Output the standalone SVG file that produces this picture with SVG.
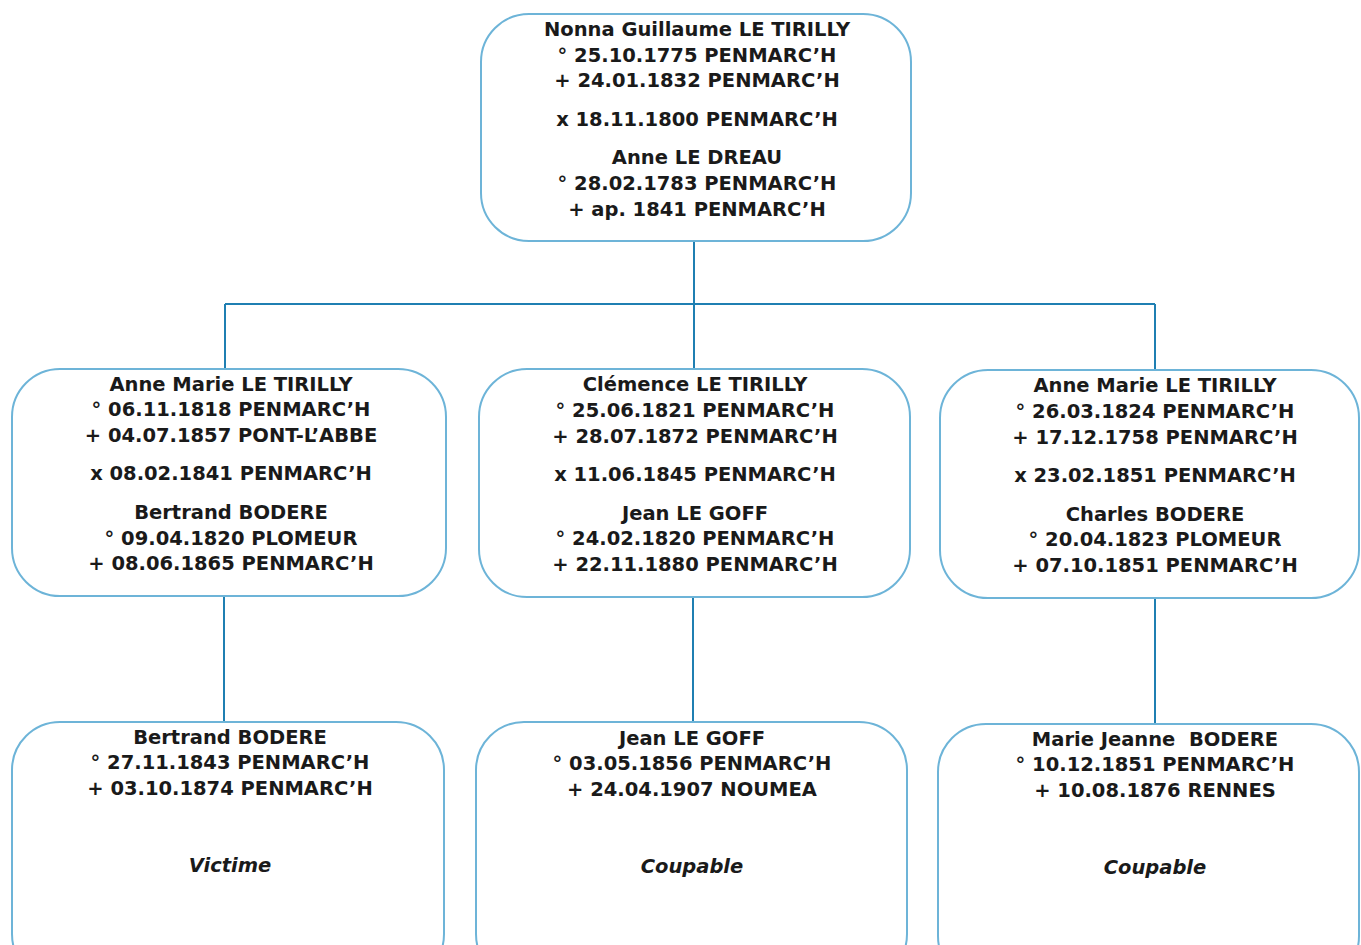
<svg xmlns="http://www.w3.org/2000/svg" width="1361" height="945" viewBox="0 0 1361 945">
<style>
.box{fill:#fff;stroke:#6db4d8;stroke-width:2}
.t{font-family:"DejaVu Sans",Verdana,sans-serif;font-weight:bold;font-size:19.5px;fill:#1a1a1a;text-anchor:middle}
.i{font-style:italic}
.c{stroke:#1f7fb2;stroke-width:2;fill:none}
</style>
<rect width="1361" height="945" fill="#fff"/>
<g id="connectors">
<path class="c" d="M694 241V304M225 304H1155M225 304V369M694 304V369M1155 304V370"/>
<path class="c" d="M224 596V722M693 597V722M1155 598V724"/>
</g>
<g id="n-top">
<rect class="box" x="481" y="14" width="430" height="227" rx="48"/>
<text class="t" x="697" y="36">Nonna Guillaume LE TIRILLY</text>
<text class="t" x="697" y="62">° 25.10.1775 PENMARC’H</text>
<text class="t" x="697" y="87">+ 24.01.1832 PENMARC’H</text>
<text class="t" x="697" y="126">x 18.11.1800 PENMARC’H</text>
<text class="t" x="697" y="164">Anne LE DREAU</text>
<text class="t" x="697" y="190">° 28.02.1783 PENMARC’H</text>
<text class="t" x="697" y="216">+ ap. 1841 PENMARC’H</text>
</g>
<g id="n-left">
<rect class="box" x="12" y="369" width="434" height="227" rx="48"/>
<text class="t" x="231" y="391">Anne Marie LE TIRILLY</text>
<text class="t" x="231" y="416">° 06.11.1818 PENMARC’H</text>
<text class="t" x="231" y="442">+ 04.07.1857 PONT-L’ABBE</text>
<text class="t" x="231" y="480">x 08.02.1841 PENMARC’H</text>
<text class="t" x="231" y="519">Bertrand BODERE</text>
<text class="t" x="231" y="545">° 09.04.1820 PLOMEUR</text>
<text class="t" x="231" y="570">+ 08.06.1865 PENMARC’H</text>
</g>
<g id="n-mid">
<rect class="box" x="479" y="369" width="431" height="228" rx="48"/>
<text class="t" x="695" y="391">Clémence LE TIRILLY</text>
<text class="t" x="695" y="417">° 25.06.1821 PENMARC’H</text>
<text class="t" x="695" y="443">+ 28.07.1872 PENMARC’H</text>
<text class="t" x="695" y="481">x 11.06.1845 PENMARC’H</text>
<text class="t" x="695" y="520">Jean LE GOFF</text>
<text class="t" x="695" y="545">° 24.02.1820 PENMARC’H</text>
<text class="t" x="695" y="571">+ 22.11.1880 PENMARC’H</text>
</g>
<g id="n-right">
<rect class="box" x="940" y="370" width="419" height="228" rx="48"/>
<text class="t" x="1155" y="392">Anne Marie LE TIRILLY</text>
<text class="t" x="1155" y="418">° 26.03.1824 PENMARC’H</text>
<text class="t" x="1155" y="444">+ 17.12.1758 PENMARC’H</text>
<text class="t" x="1155" y="482">x 23.02.1851 PENMARC’H</text>
<text class="t" x="1155" y="521">Charles BODERE</text>
<text class="t" x="1155" y="546">° 20.04.1823 PLOMEUR</text>
<text class="t" x="1155" y="572">+ 07.10.1851 PENMARC’H</text>
</g>
<g id="c-left">
<rect class="box" x="12" y="722" width="432" height="260" rx="48"/>
<text class="t" x="230" y="744">Bertrand BODERE</text>
<text class="t" x="230" y="769">° 27.11.1843 PENMARC’H</text>
<text class="t" x="230" y="795">+ 03.10.1874 PENMARC’H</text>
<text class="t i" x="230" y="872">Victime</text>
</g>
<g id="c-mid">
<rect class="box" x="476" y="722" width="431" height="260" rx="48"/>
<text class="t" x="692" y="745">Jean LE GOFF</text>
<text class="t" x="692" y="770">° 03.05.1856 PENMARC’H</text>
<text class="t" x="692" y="796">+ 24.04.1907 NOUMEA</text>
<text class="t i" x="692" y="873">Coupable</text>
</g>
<g id="c-right">
<rect class="box" x="938" y="724" width="421" height="260" rx="48"/>
<text class="t" x="1155" y="746" style="white-space:pre">Marie Jeanne  BODERE</text>
<text class="t" x="1155" y="771">° 10.12.1851 PENMARC’H</text>
<text class="t" x="1155" y="797">+ 10.08.1876 RENNES</text>
<text class="t i" x="1155" y="874">Coupable</text>
</g>
</svg>
